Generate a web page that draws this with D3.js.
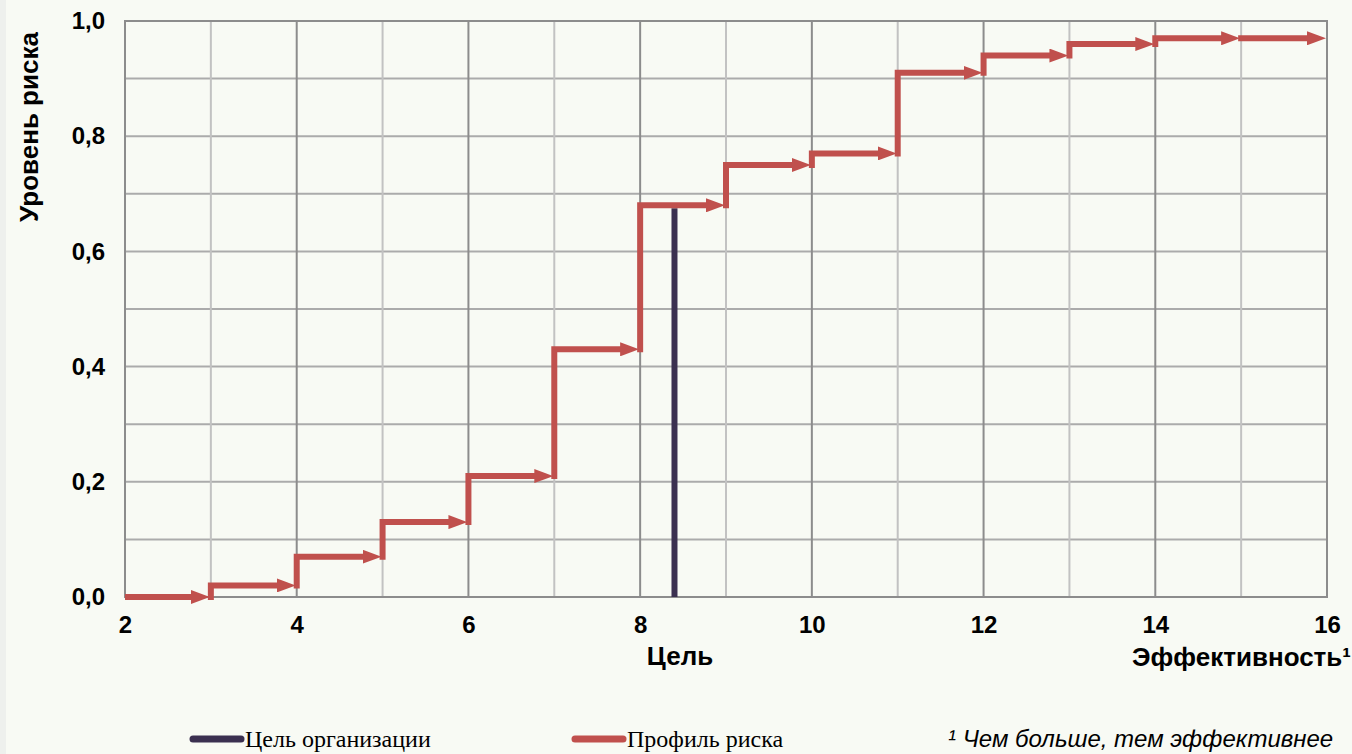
<!DOCTYPE html>
<html>
<head>
<meta charset="utf-8">
<script src="https://cdn.jsdelivr.net/npm/d3@7"></script>
<style>
  body { margin: 0; background: #f8faf4; }
  svg { display: block; }
</style>
</head>
<body>
<div id="chart"></div>
<script>
// step profile: each level starts at stepStart[i] and runs to the next start
var stepStart = [2, 3, 4, 5, 6, 7, 8, 9, 10, 11, 12, 13, 14, 15];
var riskLevel = [0.00, 0.02, 0.07, 0.13, 0.21, 0.43, 0.68, 0.75, 0.77, 0.91, 0.94, 0.96, 0.97, 0.97];
var stepEnd = 16;

// organisation target
var targetX = 8.4;
var targetLevel = 0.68;

var xTicks = [2, 4, 6, 8, 10, 12, 14, 16];
var yTicks = [0, 0.2, 0.4, 0.6, 0.8, 1.0];

var W = 1352, H = 754;
var margin = { top: 21, right: 25, bottom: 157, left: 125 },
    width = W - margin.left - margin.right,
    height = H - margin.top - margin.bottom;

var sans = "Liberation Sans, Arial, sans-serif";

var svg = d3.select("#chart")
    .append("svg")
    .attr("width", W)
    .attr("height", H);

// faint strip on the left edge
svg.append("rect").attr("x", 0).attr("y", 0).attr("width", 6).attr("height", H).attr("fill", "#eef0ed");

var g = svg.append("g")
    .attr("transform", "translate(" + margin.left + "," + margin.top + ")");

var x = d3.scaleLinear().domain([2, 16]).range([0, width]);
var y = d3.scaleLinear().domain([0, 1]).range([height, 0]);

// grid
g.append("g")
    .selectAll("line")
    .data(d3.range(0, 1.0001, 0.1))
    .enter()
    .append("line")
    .attr("x1", 0).attr("x2", width)
    .attr("y1", d => y(d)).attr("y2", d => y(d))
    .attr("stroke", "#ababab")
    .attr("stroke-width", 2);

g.append("g")
    .selectAll("line")
    .data(d3.range(2, 16.001, 1))
    .enter()
    .append("line")
    .attr("x1", d => x(d)).attr("x2", d => x(d))
    .attr("y1", 0).attr("y2", height)
    .attr("stroke", d => (Math.round(d) % 2 === 0) ? "#8c8c8c" : "#c2c2c2")
    .attr("stroke-width", 2);

g.append("rect")
    .attr("width", width).attr("height", height)
    .attr("fill", "none")
    .attr("stroke", "#8c8c8c")
    .attr("stroke-width", 2);

// axes (labels only)
var xAxis = g.append("g")
    .attr("transform", "translate(0," + height + ")")
    .call(d3.axisBottom(x).tickValues(xTicks).tickSize(0).tickPadding(19).tickFormat(d3.format("d")));

var yAxis = g.append("g")
    .call(d3.axisLeft(y).tickValues(yTicks).tickSize(0).tickPadding(20)
        .tickFormat(d => d.toFixed(1).replace(".", ",")));

[xAxis, yAxis].forEach(a => {
    a.attr("font-size", null).attr("font-family", null);
    a.select(".domain").remove();
    a.selectAll("text")
        .attr("font-family", sans)
        .attr("font-size", 24)
        .attr("font-weight", "bold")
        .attr("fill", "#000");
});

// arrow marker
svg.append("defs").append("marker")
    .attr("id", "arrow")
    .attr("markerUnits", "userSpaceOnUse")
    .attr("viewBox", "0 0 19 14")
    .attr("markerWidth", 19)
    .attr("markerHeight", 14)
    .attr("refX", 4)
    .attr("refY", 7)
    .attr("orient", "auto")
    .append("path")
    .attr("d", "M0,0L19,7L0,14Z")
    .attr("fill", "#c0504d");

// target line
g.append("line")
    .attr("x1", x(targetX)).attr("x2", x(targetX))
    .attr("y1", y(0)).attr("y2", y(targetLevel) + 3)
    .attr("stroke", "#3b3050")
    .attr("stroke-width", 6);

// risk profile steps
g.append("g")
    .selectAll("path")
    .data(stepStart)
    .enter()
    .append("path")
    .attr("d", (d, i) => {
        var prev = i === 0 ? riskLevel[0] : riskLevel[i - 1];
        var end = i < stepStart.length - 1 ? stepStart[i + 1] : stepEnd;
        var start = i === 0 ? "M" + x(d) + "," + y(prev) : "M" + x(d) + "," + (y(prev) + 3) + "V" + y(riskLevel[i]);
        return start + "H" + (x(end) - 16);
    })
    .attr("fill", "none")
    .attr("stroke", "#c0504d")
    .attr("stroke-width", 6)
    .attr("stroke-linejoin", "miter")
    .attr("marker-end", "url(#arrow)");

// axis titles
svg.append("text")
    .attr("transform", "translate(38,127) rotate(-90)")
    .attr("text-anchor", "middle")
    .attr("font-family", sans)
    .attr("font-size", 26)
    .attr("font-weight", "bold")
    .text("Уровень риска");

svg.append("text")
    .attr("x", 680).attr("y", 665)
    .attr("text-anchor", "middle")
    .attr("font-family", sans)
    .attr("font-size", 26)
    .attr("font-weight", "bold")
    .text("Цель");

svg.append("text")
    .attr("x", 1351).attr("y", 666)
    .attr("text-anchor", "end")
    .attr("font-family", sans)
    .attr("font-size", 26)
    .attr("font-weight", "bold")
    .text("Эффективность¹");

// legend
var legend = [
    { name: "Цель организации", color: "#3b3050", x: 190 },
    { name: "Профиль риска", color: "#c0504d", x: 572 }
];
var lg = svg.append("g").selectAll("g").data(legend).enter().append("g")
    .attr("transform", d => "translate(" + d.x + ",739)");
lg.append("line")
    .attr("x1", 3).attr("x2", 51)
    .attr("stroke", d => d.color)
    .attr("stroke-width", 7)
    .attr("stroke-linecap", "round");
lg.append("text")
    .attr("x", 55).attr("y", 8)
    .attr("font-family", "Liberation Serif, Times New Roman, serif")
    .attr("font-size", 24)
    .text(d => d.name);

svg.append("text")
    .attr("x", 948).attr("y", 747)
    .attr("font-family", sans)
    .attr("font-size", 24)
    .attr("font-style", "italic")
    .text("¹ Чем больше, тем эффективнее");
</script>
</body>
</html>
